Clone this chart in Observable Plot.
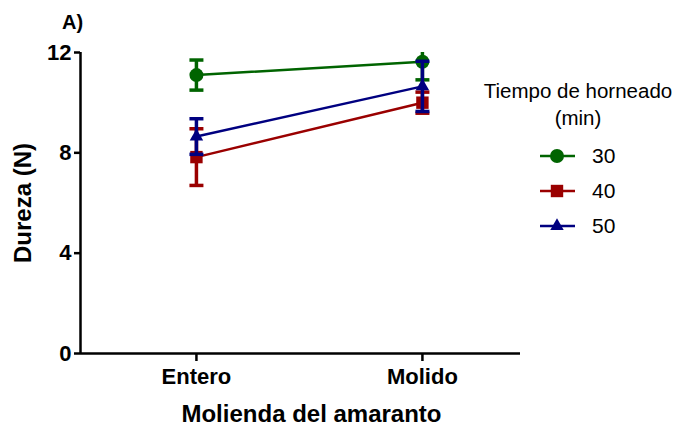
<!DOCTYPE html>
<html>
<head>
<meta charset="utf-8">
<script src="https://cdn.jsdelivr.net/npm/d3@7"></script>
<script src="https://cdn.jsdelivr.net/npm/@observablehq/plot@0.6"></script>
<style>
  html, body { margin: 0; padding: 0; background: #fff; }
  #wrap { position: relative; width: 676px; height: 427px; font-family: "Liberation Sans", Arial, sans-serif; }
  #legend { position: absolute; left: 0; top: 0; width: 676px; height: 427px; pointer-events: none; }
  .ltitle { position: absolute; width: 220px; left: 468px; text-align: center; font-size: 20.5px; line-height: 27px; color: #000; }
  .litem { position: absolute; left: 539px; height: 20px; display: flex; align-items: center; }
  .litem span { margin-left: 16px; font-size: 21px; color: #000; }
</style>
</head>
<body>
<div id="wrap"></div>
<script>
// ---- data ----
const categories = ["Entero", "Molido"];
const seriesNames = ["30", "40", "50"];
const mean30 = [11.1, 11.63];
const err30  = [0.6, 0.72];
const mean40 = [7.83, 10.0];
const err40  = [1.13, 0.42];
const mean50 = [8.65, 10.65];
const err50  = [0.71, 1.0];
const yTicks = [0, 4, 8, 12];
const xLabel = "Molienda del amaranto";
const yLabel = "Dureza (N)";
const panelLabel = "A)";
const legendTitle = ["Tiempo de horneado", "(min)"];

// ---- styles ----
const colors = ["#006400", "#9a0000", "#000080"];
const symbols = ["circle", "square", "triangle"];
const radii = [7, 7, 5];

const means = [mean30, mean40, mean50];
const errs = [err30, err40, err50];
const rows = [];
seriesNames.forEach((s, k) => {
  categories.forEach((c, i) => {
    rows.push({series: s, k, i, cat: c, mean: means[k][i], err: errs[k][i]});
  });
});

const cap = {draw(ctx) { ctx.moveTo(-7, 0); ctx.lineTo(7, 0); }};

const marks = [];
seriesNames.forEach((s, k) => {
  const f = d => d.series === s;
  marks.push(Plot.line(rows, {filter: f, x: "i", y: "mean", stroke: colors[k], strokeWidth: 2.5}));
  marks.push(Plot.ruleX(rows, {filter: f, x: "i", y1: d => d.mean - d.err, y2: d => d.mean + d.err, stroke: colors[k], strokeWidth: 3.5, clip: true}));
  marks.push(Plot.dot(rows, {filter: f, x: "i", y: d => d.mean - d.err, symbol: cap, r: 7, stroke: colors[k], strokeWidth: 3.5, fill: "none"}));
  marks.push(Plot.dot(rows, {filter: f, x: "i", y: d => d.mean + d.err, symbol: cap, r: 7, stroke: colors[k], strokeWidth: 3.5, fill: "none", clip: true}));
  marks.push(Plot.dot(rows, {filter: f, x: "i", y: "mean", symbol: symbols[k], r: radii[k], fill: colors[k], stroke: "none"}));
});

const xDomain = [-0.513, 1.434];

const chart = Plot.plot({
  width: 676,
  height: 427,
  marginLeft: 80,
  marginRight: 156,
  marginTop: 52,
  marginBottom: 74,
  style: {fontFamily: "'Liberation Sans', Arial, sans-serif", fontSize: "22px", fontWeight: "bold", color: "#000", background: "#fff"},
  x: {domain: xDomain},
  y: {domain: [0, 12]},
  marks: [
    Plot.ruleY([0], {stroke: "#000", strokeWidth: 2.5}),
    Plot.ruleX([xDomain[0]], {stroke: "#000", strokeWidth: 2.5}),
    Plot.axisY({ticks: yTicks, tickSize: 6, tickPadding: 3, strokeWidth: 2.5, label: null, fontSize: 22, fontWeight: "bold"}),
    Plot.axisX({ticks: [0, 1], tickFormat: i => categories[i], tickSize: 8, tickPadding: 7, strokeWidth: 2.5, label: null, fontSize: 22, fontWeight: "bold"}),
    Plot.text([yLabel], {frameAnchor: "left", dx: -57, rotate: -90, textAnchor: "middle", lineAnchor: "middle", fontSize: 24, fontWeight: "bold"}),
    Plot.text([xLabel], {frameAnchor: "bottom", dx: 11, dy: 61, textAnchor: "middle", lineAnchor: "middle", fontSize: 24, fontWeight: "bold"}),
    Plot.text([panelLabel], {frameAnchor: "top-left", dx: -8, dy: -30, textAnchor: "middle", lineAnchor: "middle", fontSize: 20, fontWeight: "bold"}),
    ...marks
  ]
});

const wrap = document.getElementById("wrap");
wrap.appendChild(chart);

// ---- legend ----
const legend = document.createElement("div");
legend.id = "legend";
legendTitle.forEach((t, j) => {
  const d = document.createElement("div");
  d.className = "ltitle";
  d.style.top = (77 + j * 27) + "px";
  d.textContent = t;
  legend.appendChild(d);
});
const ns = "http://www.w3.org/2000/svg";
seriesNames.forEach((s, k) => {
  const item = document.createElement("div");
  item.className = "litem";
  item.style.top = (146 + k * 35) + "px";
  const svg = document.createElementNS(ns, "svg");
  svg.setAttribute("width", 37); svg.setAttribute("height", 20);
  const ln = document.createElementNS(ns, "line");
  ln.setAttribute("x1", 1); ln.setAttribute("x2", 36); ln.setAttribute("y1", 10); ln.setAttribute("y2", 10);
  ln.setAttribute("stroke", colors[k]); ln.setAttribute("stroke-width", 2.5);
  svg.appendChild(ln);
  const p = document.createElementNS(ns, "path");
  const sym = {circle: d3.symbolCircle, square: d3.symbolSquare, triangle: d3.symbolTriangle}[symbols[k]];
  p.setAttribute("d", d3.symbol(sym, Math.PI * radii[k] * radii[k])());
  p.setAttribute("transform", "translate(18,10)");
  p.setAttribute("fill", colors[k]);
  svg.appendChild(p);
  item.appendChild(svg);
  const lab = document.createElement("span");
  lab.textContent = s;
  item.appendChild(lab);
  legend.appendChild(item);
});
wrap.appendChild(legend);
</script>
</body>
</html>
